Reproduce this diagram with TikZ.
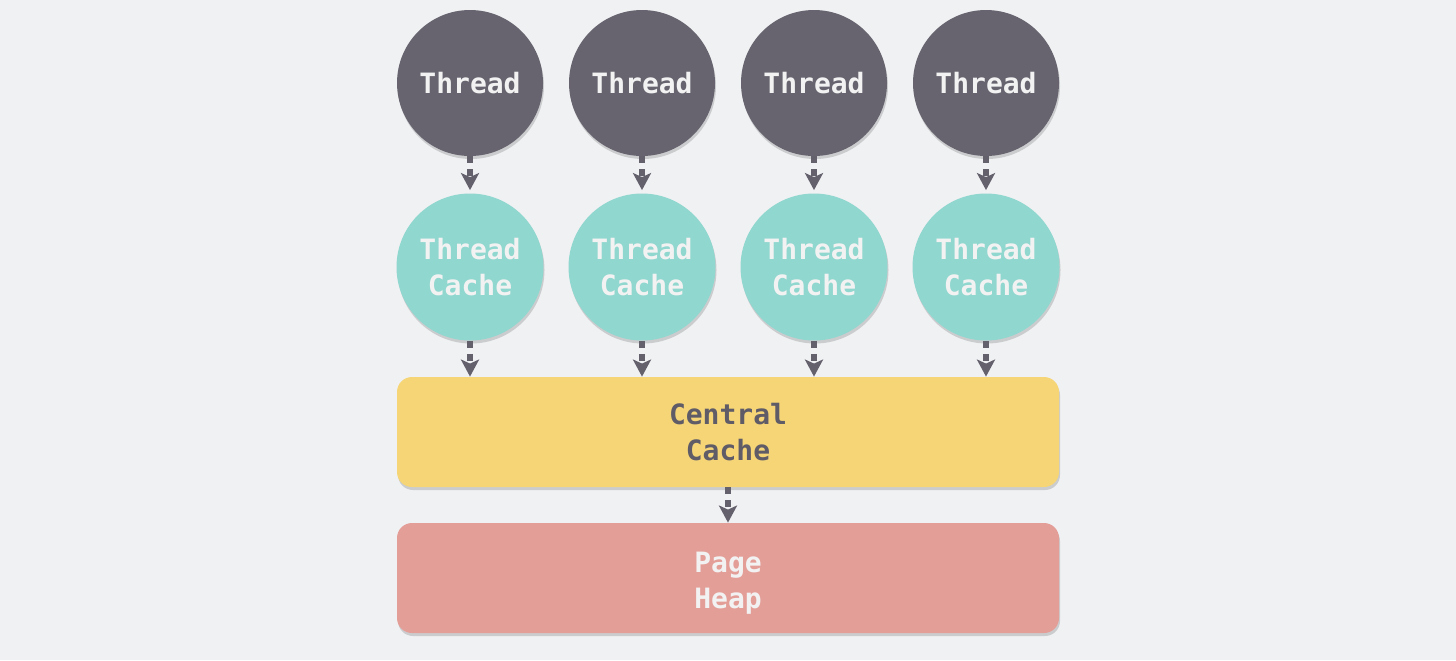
\documentclass[tikz,border=0pt]{standalone}
\usepackage{fontspec}
\setmonofont{DejaVu Sans Mono}
\usetikzlibrary{shadows,arrows.meta}
\definecolor{bgc}{HTML}{F0F1F3}
\definecolor{darkc}{HTML}{67646F}
\definecolor{tealc}{HTML}{90D7CF}
\definecolor{yellc}{HTML}{F5D576}
\definecolor{redc}{HTML}{E49E98}
\definecolor{lighttxt}{HTML}{F2F2F2}
\definecolor{darktxt}{HTML}{5F5C68}
\definecolor{arrc}{HTML}{64616D}
\tikzset{
  sh/.style={drop shadow={opacity=0.32,shadow xshift=0.5pt,shadow yshift=-1.5pt}},
  lbl/.style={font=\ttfamily\bfseries\fontsize{14pt}{18pt}\selectfont,align=center,inner sep=0pt},
  thr/.style={circle,fill=darkc,minimum size=73pt,sh,lbl,text=lighttxt},
  tca/.style={circle,fill=tealc,minimum size=73.5pt,sh,lbl,text=lighttxt},
  cbox/.style={rectangle,rounded corners=7.5pt,minimum width=331pt,minimum height=55pt,sh,lbl},
  conn/.style={draw=arrc,line width=3pt,dash pattern=on 3.5pt off 3pt,
    -{Stealth[length=8.5pt,width=9pt,inset=2pt]}}
}
\begin{document}
\begin{tikzpicture}[x=0.5pt,y=-0.5pt]
\fill[bgc] (0,0) rectangle (1456,660);
\useasboundingbox (0,0) rectangle (1456,660);
\foreach \i/\x in {1/470,2/642,3/814,4/986}{
  \node[thr] (t\i) at (\x,83) {Thread};
  \node[tca] (c\i) at (\x,267) {Thread\\Cache};
}
\node[cbox,fill=yellc,text=darktxt] (cc) at (728,432) {Central\\Cache};
\node[cbox,fill=redc,label={[lbl,text=lighttxt,yshift=-2.5pt]center:Page\\Heap}] (ph) at (728,578) {};
\foreach \i in {1,2,3,4}{
  \draw[conn] (t\i.south) -- ([yshift=1.5pt]c\i.north);
  \draw[conn] (c\i.south) -- (c\i.south |- cc.north);
}
\draw[conn] (cc.south) -- (ph.north);
\end{tikzpicture}
\end{document}
